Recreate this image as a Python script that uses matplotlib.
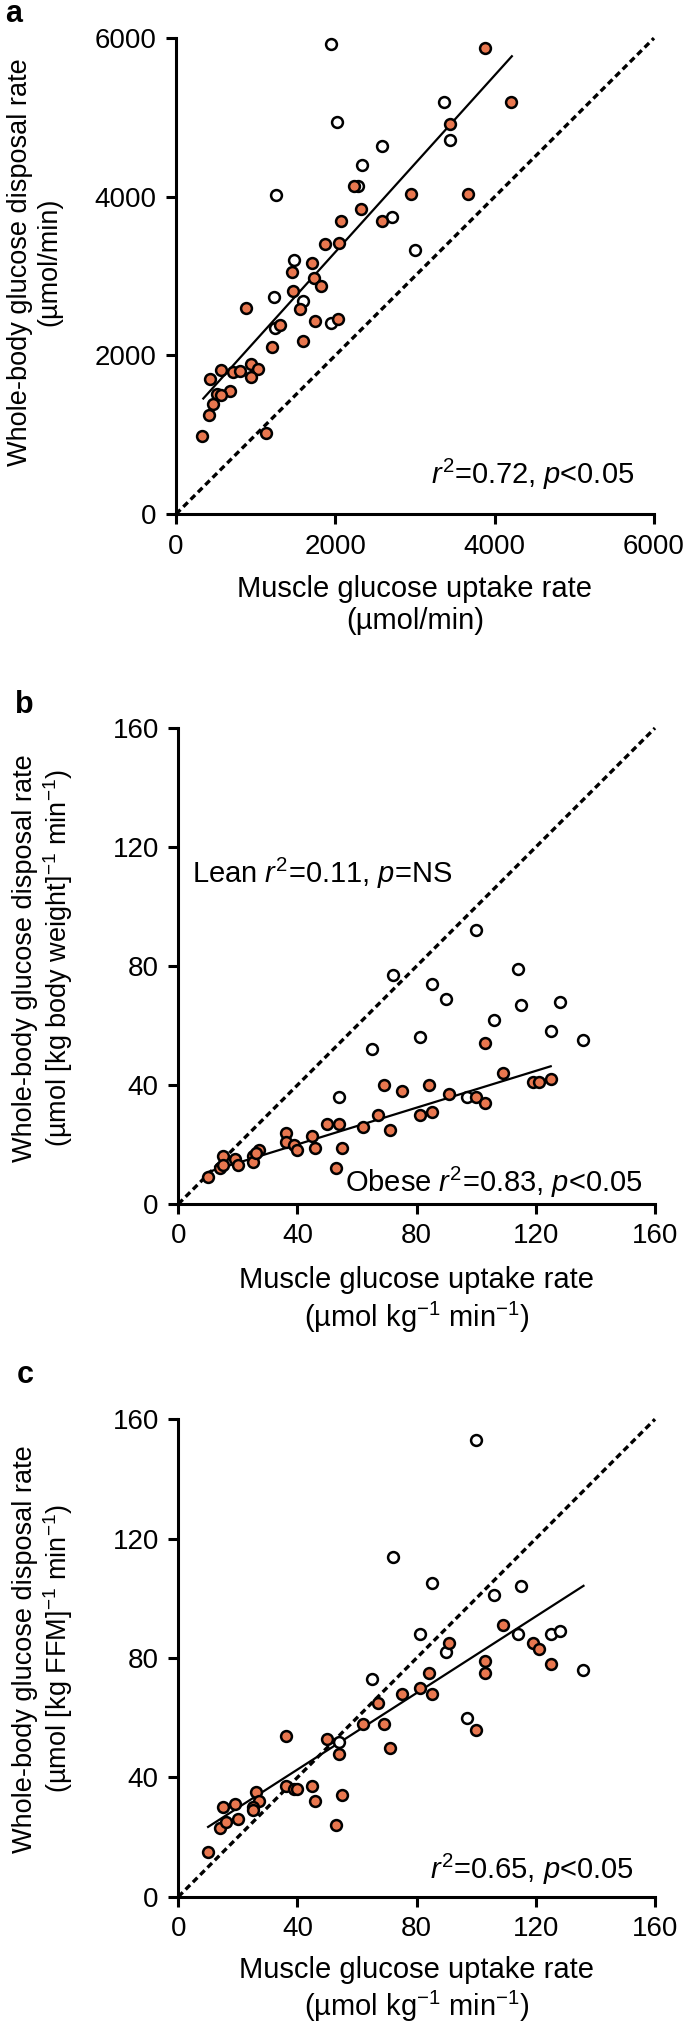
import matplotlib
matplotlib.use("Agg")
import matplotlib.pyplot as plt
import numpy as np

plt.rcParams["font.family"] = ["Liberation Sans", "DejaVu Sans"]
plt.rcParams["mathtext.fontset"] = "custom"
plt.rcParams["mathtext.rm"] = "Liberation Sans"
plt.rcParams["mathtext.it"] = "Liberation Sans:italic"
plt.rcParams["mathtext.bf"] = "Liberation Sans:bold"

ORANGE = "#E8774F"

# panel a: umol/min (open = lean, filled = obese)
a_open_x = [1950, 3360, 2020, 3440, 2580, 2330, 2290, 1260, 2710, 3000,
            1480, 1230, 1590, 1950, 1240]
a_open_y = [5930, 5190, 4940, 4710, 4640, 4400, 4140, 4020, 3750, 3330,
            3200, 2740, 2680, 2410, 2340]
a_fill_x = [3880, 4210, 3440, 2230, 2950, 3660, 2320, 2070, 2580, 1870,
            2050, 1710, 1460, 1730, 1820, 1470, 880, 1560, 1750, 2040,
            1300, 1600, 1200, 940, 1030, 570, 720, 800, 940, 430,
            680, 510, 560, 460, 410, 330, 1130]
a_fill_y = [5880, 5200, 4920, 4130, 4030, 4030, 3840, 3690, 3690, 3410,
            3420, 3170, 3050, 2970, 2880, 2810, 2600, 2580, 2440, 2460,
            2380, 2180, 2110, 1890, 1830, 1820, 1790, 1800, 1730, 1700,
            1550, 1520, 1500, 1390, 1250, 980, 1020]
a_fit = (1.114, 1075, 343, 4216)  # slope, intercept, x start, x end

# panel b: per kg body weight
b_open_x = [72, 85, 114, 90, 115, 128, 106, 81, 125, 136, 65, 54, 97, 100]
b_open_y = [77, 74, 79, 69, 67, 68, 62, 56, 58, 55, 52, 36, 36, 92]
b_fill_x = [103, 109, 119, 121, 125, 69, 84, 75, 91, 100, 103, 85, 81, 67,
            50, 54, 62, 71, 36, 45, 36, 39, 46, 55, 40, 27, 25, 15, 19, 25,
            20, 14, 15, 53, 10, 26]
b_fill_y = [54, 44, 41, 41, 42, 40, 40, 38, 37, 36, 34, 31, 30, 30,
            27, 27, 26, 25, 24, 23, 21, 20, 19, 19, 18, 18, 16, 16, 15, 14,
            13, 12, 13, 12, 9, 17]
b_fit = (0.309, 7.68, 10, 125)

# panel c: per kg FFM
c_open_x = [100, 72, 85, 115, 106, 81, 114, 125, 128, 90, 65, 136, 97, 54]
c_open_y = [153, 114, 105, 104, 101, 88, 88, 88, 89, 82, 73, 76, 60, 52]
c_fill_x = [109, 91, 119, 121, 103, 103, 125, 84, 81, 75, 85, 67, 62, 69,
            100, 50, 54, 71, 36, 36, 39, 40, 45, 46, 55, 53, 26, 27, 25, 25,
            15, 19, 20, 14, 16, 10]
c_fill_y = [91, 85, 85, 83, 79, 75, 78, 75, 70, 68, 68, 65, 58, 58,
            56, 53, 48, 50, 54, 37, 36, 36, 37, 32, 34, 24, 35, 32, 30, 29,
            30, 31, 26, 23, 25, 15]
c_fit = (0.641, 17.0, 10, 136)

YLABEL = "Whole-body glucose disposal rate"
XLABEL = "Muscle glucose uptake rate"


def draw_panel(ax, ox, oy, fx, fy, fit, lim, ticks, xunit, yunit,
               ylab_xy, xlab_y):
    ax.plot([0, lim], [0, lim], color="black", lw=2.4, ls=(0, (1.9, 1.2)),
            zorder=1, clip_on=False)
    slope, icpt, x0, x1 = fit
    xs = np.array([x0, x1])
    ax.plot(xs, slope * xs + icpt, color="black", lw=1.6, zorder=2)
    ax.plot(ox, oy, "o", ms=7.8, mfc="white", mec="black", mew=1.8,
            zorder=3, clip_on=False)
    ax.plot(fx, fy, "o", ms=7.8, mfc=ORANGE, mec="black", mew=1.8,
            zorder=4, clip_on=False)

    ax.set_xlim(0, lim)
    ax.set_ylim(0, lim)
    ax.set_xticks(ticks)
    ax.set_yticks(ticks)
    for s in ["top", "right"]:
        ax.spines[s].set_visible(False)
    for s in ["left", "bottom"]:
        ax.spines[s].set_linewidth(2.2)
    ax.tick_params(width=2.2, length=7, labelsize=20, pad=7)

    ax.set_ylabel(YLABEL + "\n" + yunit, fontsize=19.5, linespacing=1.15)
    ax.yaxis.set_label_coords(*ylab_xy)
    ax.set_xlabel(XLABEL + "\n" + xunit, fontsize=21, linespacing=1.2)
    ax.xaxis.set_label_coords(0.5, xlab_y)


fig = plt.figure(figsize=(6.85, 20.28), dpi=100)

ax_a = fig.add_axes([0.2569, 0.7465, 0.6978, 0.2347])
ax_b = fig.add_axes([0.2603, 0.4063, 0.6959, 0.2347])
ax_c = fig.add_axes([0.2603, 0.0647, 0.6959, 0.2355])

draw_panel(ax_a, a_open_x, a_open_y, a_fill_x, a_fill_y, a_fit, 6000,
           [0, 2000, 4000, 6000], "(µmol/min)", "(µmol/min)",
           (-0.238, 0.53), -0.128)
draw_panel(ax_b, b_open_x, b_open_y, b_fill_x, b_fill_y, b_fit, 160,
           [0, 40, 80, 120, 160],
           "(µmol kg$^{-1}$ min$^{-1}$)",
           "(µmol [kg body weight]$^{-1}$ min$^{-1}$)",
           (-0.216, 0.517), -0.13)
draw_panel(ax_c, c_open_x, c_open_y, c_fill_x, c_fill_y, c_fit, 160,
           [0, 40, 80, 120, 160],
           "(µmol kg$^{-1}$ min$^{-1}$)",
           "(µmol [kg FFM]$^{-1}$ min$^{-1}$)",
           (-0.216, 0.519), -0.123)

ax_a.text(5750, 378, r"$\mathit{r}^{2}$=0.72, $\mathit{p}$<0.05",
          fontsize=21, ha="right", va="baseline")
ax_b.text(4.6, 108, r"Lean $\mathit{r}^{2}$=0.11, $\mathit{p}$=NS",
          fontsize=21, ha="left", va="baseline")
ax_b.text(156, 3.9, r"Obese $\mathit{r}^{2}$=0.83, $\mathit{p}$<0.05",
          fontsize=21, ha="right", va="baseline")
ax_c.text(153, 5.9, r"$\mathit{r}^{2}$=0.65, $\mathit{p}$<0.05",
          fontsize=21, ha="right", va="baseline")

fig.text(5 / 685, 1 - 22 / 2028, "a", fontsize=22, fontweight="bold",
         va="baseline", ha="left")
fig.text(15 / 685, 1 - 713 / 2028, "b", fontsize=22, fontweight="bold",
         va="baseline", ha="left")
fig.text(17 / 685, 1 - 1383 / 2028, "c", fontsize=22, fontweight="bold",
         va="baseline", ha="left")

fig.savefig("out.png", dpi=100)
